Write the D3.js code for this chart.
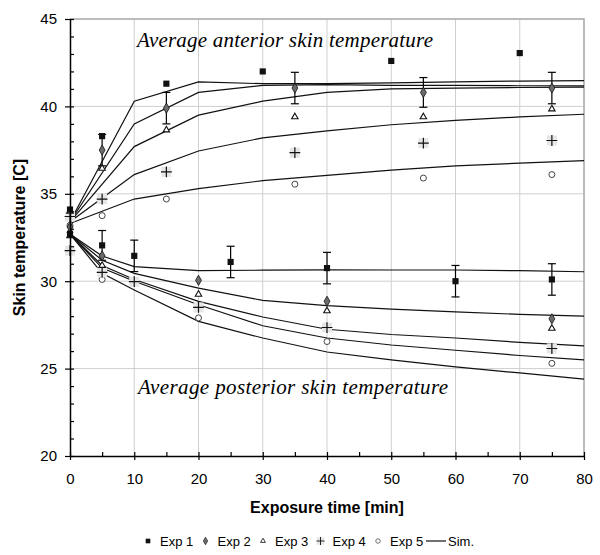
<!DOCTYPE html>
<html>
<head>
<meta charset="utf-8">
<script src="https://cdn.jsdelivr.net/npm/d3@7"></script>
<style>
  body { margin: 0; background: #fff; }
  svg { font-family: "Liberation Sans", Arial, sans-serif; }
</style>
</head>
<body>
<div id="chart"></div>
<script>
// anterior measurements
const antTime1 = [0, 5, 15, 30, 50, 70];
const antExp1 = [34.1, 38.3, 41.3, 42.0, 42.6, 43.05];
const antTime = [0, 5, 15, 35, 55, 75];
const antExp2 = [33.1, 37.5, 39.9, 41.05, 40.8, 41.05];
const antExp2Err = [0, 0.9, 0.9, 0.9, 0.85, 0.9];
const antExp3 = [34.0, 36.45, 38.65, 39.4, 39.4, 39.85];
const antExp4 = [33.7, 34.7, 36.25, 37.35, 37.9, 38.05];
const antExp5 = [33.2, 33.75, 34.7, 35.55, 35.9, 36.1];

// posterior measurements
const postTime1 = [0, 5, 10, 25, 40, 60, 75];
const postExp1 = [32.7, 32.05, 31.45, 31.1, 30.75, 30.0, 30.1];
const postExp1Err = [0, 0.85, 0.9, 0.9, 0.9, 0.9, 0.9];
const postTime = [0, 5, 20, 40, 75];
const postExp2 = [32.8, 31.45, 30.05, 28.85, 27.85];
const postExp3 = [32.6, 30.9, 29.25, 28.3, 27.3];
const postTime4 = [0, 5, 10, 20, 40, 75];
const postExp4 = [31.75, 30.5, 29.97, 28.5, 27.35, 26.15];
const postExp5 = [31.75, 30.1, 27.9, 26.55, 25.3];

// simulations
const simTimeAnt = [0, 10, 20, 30, 40, 50, 60, 70, 80];
const antSim = [
    [33.4, 40.3, 41.4, 41.3, 41.3, 41.35, 41.4, 41.45, 41.47],
    [33.4, 39.0, 40.8, 41.2, 41.25, 41.2, 41.2, 41.18, 41.17],
    [33.4, 37.7, 39.5, 40.3, 40.8, 41.0, 41.05, 41.08, 41.1],
    [33.4, 36.1, 37.45, 38.2, 38.6, 38.95, 39.2, 39.4, 39.55],
    [33.3, 34.7, 35.3, 35.75, 36.05, 36.35, 36.6, 36.75, 36.9]
];
const simTimePost = [0, 5, 10, 20, 30, 40, 50, 60, 70, 80];
const postSim = [
    [32.7, 31.44, 30.83, 30.6, 30.63, 30.65, 30.64, 30.64, 30.6, 30.54],
    [32.7, 31.2, 30.45, 29.6, 28.9, 28.6, 28.4, 28.25, 28.1, 28.0],
    [32.7, 30.9, 30.1, 28.85, 27.95, 27.25, 26.95, 26.75, 26.5, 26.3],
    [32.7, 30.75, 30.0, 28.65, 27.45, 26.75, 26.35, 26.05, 25.75, 25.5],
    [32.7, 30.45, 29.5, 27.7, 26.75, 25.95, 25.5, 25.1, 24.75, 24.4]
];

const width = 600;
const height = 555;
const margin = {top: 19, right: 16, bottom: 99, left: 70};

const svg = d3.select('#chart')
    .append('svg')
    .attr('width', width)
    .attr('height', height);

const x = d3.scaleLinear()
    .domain([0, 80])
    .range([margin.left, width - margin.right]);

const y = d3.scaleLinear()
    .domain([20, 45])
    .range([height - margin.bottom, margin.top]);

// grid
svg.append('g')
    .attr('stroke', '#cfcfcf')
    .selectAll('line')
    .data(d3.range(10, 80, 10))
    .join('line')
        .attr('x1', d => x(d)).attr('x2', d => x(d))
        .attr('y1', y(20)).attr('y2', y(45));

svg.append('g')
    .attr('stroke', '#cfcfcf')
    .selectAll('line')
    .data(d3.range(25, 45, 5))
    .join('line')
        .attr('x1', x(0)).attr('x2', x(80))
        .attr('y1', d => y(d)).attr('y2', d => y(d));

// top and right frame
svg.append('path')
    .attr('d', `M${x(0)},${y(45)}H${x(80)}V${y(20)}`)
    .attr('fill', 'none')
    .attr('stroke', '#a6a6a6')
    .attr('stroke-width', 1.5);

// simulation lines
const line = d3.line();
antSim.forEach(s => {
    svg.append('path')
        .attr('d', line(s.map((v, i) => [x(simTimeAnt[i]), y(v)])))
        .attr('fill', 'none')
        .attr('stroke', '#111')
        .attr('stroke-width', 1.2);
});
postSim.forEach(s => {
    svg.append('path')
        .attr('d', line(s.map((v, i) => [x(simTimePost[i]), y(v)])))
        .attr('fill', 'none')
        .attr('stroke', '#111')
        .attr('stroke-width', 1.2);
});

// error bars
function errorBars(times, vals, errs) {
    const g = svg.append('g').attr('stroke', '#000').attr('stroke-width', 1.2);
    times.forEach((t, i) => {
        if (!errs[i]) return;
        const cx = x(t);
        g.append('line').attr('x1', cx).attr('x2', cx)
            .attr('y1', y(vals[i] - errs[i])).attr('y2', y(vals[i] + errs[i]));
        [vals[i] - errs[i], vals[i] + errs[i]].forEach(v => {
            g.append('line').attr('x1', cx - 4).attr('x2', cx + 4)
                .attr('y1', y(v)).attr('y2', y(v));
        });
    });
}
errorBars(antTime, antExp2, antExp2Err);
errorBars(postTime1, postExp1, postExp1Err);

// marker styles
const markers = {
    exp1: g => g.append('path').attr('d', d3.symbol(d3.symbolSquare, 38)())
        .attr('fill', '#111'),
    exp2: g => g.append('path').attr('d', d3.symbol(d3.symbolDiamond, 30)())
        .attr('fill', '#6b6b6b').attr('stroke', '#111').attr('stroke-width', 0.8),
    exp3: g => g.append('path').attr('d', d3.symbol(d3.symbolTriangle2, 30)())
        .attr('fill', '#fff').attr('stroke', '#111').attr('stroke-width', 1.1),
    exp4: g => {
        g.append('rect').attr('x', -5).attr('y', -5).attr('width', 10).attr('height', 10)
            .attr('fill', '#e6e6e6');
        g.append('path').attr('d', d3.symbol(d3.symbolPlus, 40)())
            .attr('fill', 'none').attr('stroke', '#111').attr('stroke-width', 1.2);
    },
    exp5: g => g.append('circle').attr('r', 3)
        .attr('fill', '#fff').attr('stroke', '#444').attr('stroke-width', 1)
};

function drawPoints(times, vals, kind) {
    svg.append('g')
        .selectAll('g')
        .data(vals)
        .join('g')
            .attr('transform', (d, i) => `translate(${x(times[i])},${y(d)})`)
            .each(function() { markers[kind](d3.select(this)); });
}

drawPoints(postTime, postExp5, 'exp5');
drawPoints(postTime4, postExp4, 'exp4');
drawPoints(postTime, postExp3, 'exp3');
drawPoints(postTime, postExp2, 'exp2');
drawPoints(postTime1, postExp1, 'exp1');
drawPoints(antTime, antExp5, 'exp5');
drawPoints(antTime, antExp4, 'exp4');
drawPoints(antTime, antExp3, 'exp3');
drawPoints(antTime, antExp2, 'exp2');
drawPoints(antTime1, antExp1, 'exp1');

// axes
function styleAxis(g) {
    g.attr('font-size', 15)
        .attr('font-family', '"Liberation Sans", Arial, sans-serif');
    g.select('.domain').attr('stroke', '#000').attr('stroke-width', 1.5);
    g.selectAll('.tick line').attr('stroke', '#000').attr('stroke-width', 1.2);
    g.selectAll('.tick text').attr('fill', '#000');
}

svg.append('g')
    .attr('transform', `translate(0,${y(20)})`)
    .call(d3.axisBottom(x).tickValues(d3.range(0, 81, 5)).tickSize(-4).tickSizeOuter(0).tickFormat(''))
    .call(g => g.select('.domain').remove())
    .call(styleAxis);

svg.append('g')
    .attr('transform', `translate(${x(0)},0)`)
    .call(d3.axisLeft(y).tickValues(d3.range(20, 46, 1)).tickSize(-4).tickSizeOuter(0).tickFormat(''))
    .call(g => g.select('.domain').remove())
    .call(styleAxis);

svg.append('g')
    .attr('transform', `translate(0,${y(20)})`)
    .call(d3.axisBottom(x).tickValues(d3.range(0, 81, 10)).tickSize(4).tickSizeOuter(0).tickPadding(13))
    .call(styleAxis);

svg.append('g')
    .attr('transform', `translate(${x(0)},0)`)
    .call(d3.axisLeft(y).tickValues(d3.range(20, 46, 5)).tickSize(5).tickSizeOuter(0).tickPadding(8))
    .call(styleAxis);

// axis titles
svg.append('text')
    .attr('x', (x(0) + x(80)) / 2)
    .attr('y', 513)
    .attr('text-anchor', 'middle')
    .attr('font-size', 16)
    .attr('font-weight', 'bold')
    .text('Exposure time [min]');

svg.append('text')
    .attr('transform', `translate(25,${(y(20) + y(45)) / 2}) rotate(-90)`)
    .attr('text-anchor', 'middle')
    .attr('font-size', 16)
    .attr('font-weight', 'bold')
    .text('Skin temperature [C]');

// annotations
svg.append('text')
    .attr('x', 137).attr('y', 47)
    .style('font-family', '"Liberation Serif", "Times New Roman", serif')
    .style('font-style', 'italic')
    .attr('font-size', 21)
    .attr('textLength', 296)
    .text('Average anterior skin temperature');

svg.append('text')
    .attr('x', 138).attr('y', 394)
    .style('font-family', '"Liberation Serif", "Times New Roman", serif')
    .style('font-style', 'italic')
    .attr('font-size', 21)
    .attr('textLength', 310)
    .text('Average posterior skin temperature');

// legend
const legendItems = [
    {kind: 'exp1', label: 'Exp 1'},
    {kind: 'exp2', label: 'Exp 2'},
    {kind: 'exp3', label: 'Exp 3'},
    {kind: 'exp4', label: 'Exp 4'},
    {kind: 'exp5', label: 'Exp 5'}
];
const legend = svg.append('g').attr('transform', 'translate(148,541)');
legendItems.forEach((d, i) => {
    const item = legend.append('g').attr('transform', `translate(${i * 57.5},0)`);
    const m = item.append('g').attr('transform', 'scale(0.75)');
    markers[d.kind](m);
    item.append('text')
        .attr('x', 12).attr('y', 5)
        .attr('font-size', 13)
        .text(d.label);
});
const simItem = legend.append('g').attr('transform', `translate(${4 * 57.5 + 48},0)`);
simItem.append('line').attr('x1', 0).attr('x2', 20).attr('stroke', '#111').attr('stroke-width', 1.2);
simItem.append('text').attr('x', 22).attr('y', 5).attr('font-size', 13).text('Sim.');
</script>
</body>
</html>
